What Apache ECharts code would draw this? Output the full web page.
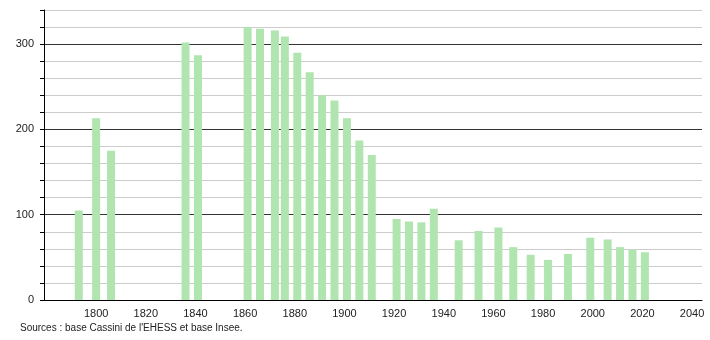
<!DOCTYPE html>
<html>
<head>
<meta charset="utf-8">
<script src="https://cdn.jsdelivr.net/npm/echarts@6/dist/echarts.min.js"></script>
<style>
html,body{margin:0;padding:0;background:#fff;}
#c{width:710px;height:340px;}
</style>
</head>
<body>
<div id="c"></div>
<script>
var years = [1793,1800,1806,1836,1841,1861,1866,1872,1876,1881,1886,1891,1896,1901,1906,1911,1921,1926,1931,1936,1946,1954,1962,1968,1975,1982,1990,1999,2006,2011,2016,2021];
var population = [105,213,175,302,287,320,318,316,309,290,267,240,234,213,187,170,95,92,91,107,70,81,85,62,53,47,54,73,71,62,59,56];
var xTickLabels = [1800,1820,1840,1860,1880,1900,1920,1940,1960,1980,2000,2020,2040];
var yTickLabels = [0,100,200,300];
var sourceText = "Sources : base Cassini de l'EHESS et base Insee.";

var chart = echarts.init(document.getElementById('c'), null, {renderer:'canvas'});
var data = years.map(function(y,i){return [y, population[i]];});
chart.setOption({
  animation:false,
  textStyle:{fontFamily:'Liberation Sans, Arial, sans-serif'},
  grid:{left:44,right:8,top:10,bottom:40,containLabel:false},
  graphic:[{type:'text',left:20,top:323,style:{text:sourceText,font:'10px Liberation Sans, Arial, sans-serif',fill:'#222'}}],
  xAxis:{
    type:'value',min:1779,max:2044,
    axisLine:{show:true,onZero:false,lineStyle:{color:'#000',width:1}},
    axisTick:{show:false},
    splitLine:{show:false},
    axisLabel:{customValues:xTickLabels,color:'#222',fontSize:11,margin:8,formatter:function(v){return String(v);}}
  },
  yAxis:{
    type:'value',min:0,max:340,interval:20,
    axisLine:{show:true,lineStyle:{color:'#000',width:1}},
    axisTick:{show:true,length:4,lineStyle:{color:'#000'}},
    axisLabel:{color:'#222',fontSize:11,margin:10,formatter:function(v){return yTickLabels.indexOf(v)>=0?String(v):'';}},
    splitLine:{show:true,lineStyle:{color:['#333','#ccc','#ccc','#ccc','#ccc'],width:1}}
  },
  series:[{
    type:'bar',data:data,barWidth:8,
    itemStyle:{color:'#b0e5b0'}
  }]
});
</script>
</body>
</html>
